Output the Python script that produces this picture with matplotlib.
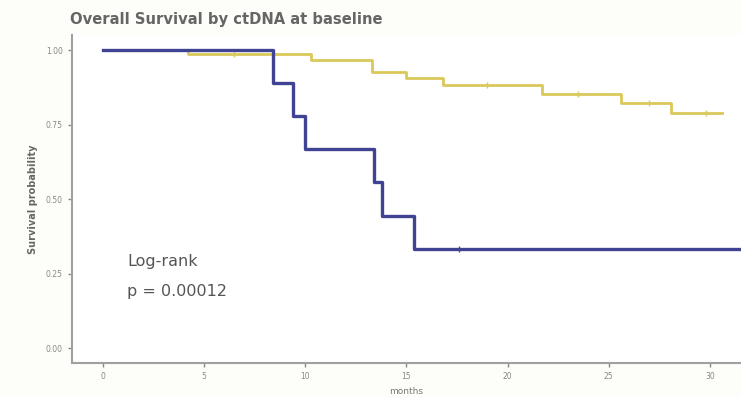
import matplotlib.pyplot as plt
import numpy as np

# Kaplan-Meier steps (months, survival)
pos_times = [0, 8.4, 9.4, 10.0, 13.4, 13.8, 15.4, 31.6]
pos_surv = [1.0, 0.889, 0.778, 0.667, 0.556, 0.444, 0.333, 0.333]
pos_censor = [17.6]

neg_times = [0, 4.2, 10.3, 13.3, 15.0, 16.8, 21.7, 25.6, 28.1, 30.6]
neg_surv = [1.0, 0.985, 0.966, 0.926, 0.906, 0.883, 0.852, 0.822, 0.789, 0.789]
neg_censor = [6.5, 19.0, 23.5, 27.0, 29.8]

x_ticks = [0, 5, 10, 15, 20, 25, 30]
y_ticks = [0.00, 0.25, 0.50, 0.75, 1.00]

blue = '#3f4391'
yellow = '#d9c85a'


def surv_at(times, surv, t_list):
    # survival value of the step curve at each censoring time
    idx = np.searchsorted(times, t_list, side='right') - 1
    return np.array(surv)[idx]


fig = plt.figure(figsize=(7.41, 3.97), dpi=100)
fig.patch.set_facecolor('#fdfdf9')
ax = fig.add_axes([0.097, 0.0856, 0.903, 0.826])
ax.set_facecolor('white')

# ctDNA negative (yellow) drawn first, positive (blue) on top
ax.step(neg_times, neg_surv, where='post', color=yellow, lw=2.0)
ax.plot(neg_censor, surv_at(neg_times, neg_surv, neg_censor),
        '|', color=yellow, ms=4, mew=1)
ax.step(pos_times, pos_surv, where='post', color=blue, lw=2.4)
ax.plot(pos_censor, surv_at(pos_times, pos_surv, pos_censor),
        '|', color=blue, ms=4, mew=1)

ax.set_xlim(-1.53, 31.54)
ax.set_ylim(-0.05, 1.05)
ax.set_xticks(x_ticks)
ax.set_yticks(y_ticks)
ax.set_yticklabels([f"{v:.2f}" for v in y_ticks])
ax.tick_params(colors='#888888', labelsize=5.5, length=3, width=1)

for s in ['top', 'right']:
    ax.spines[s].set_visible(False)
for s in ['left', 'bottom']:
    ax.spines[s].set_color('#a0a0a0')
    ax.spines[s].set_linewidth(1.5)

ax.set_xlabel("months", fontsize=6.5, color='#777777', labelpad=4)
ax.set_ylabel("Survival probability", fontsize=7, fontweight='bold',
              color='#666666', labelpad=6)

fig.text(0.094, 0.95, "Overall Survival by ctDNA at baseline", fontsize=10.6,
         fontweight='bold', color='#666666', va='center')

ax.text(1.2, 0.29, "Log-rank", fontsize=11.5, color='#555555', va='center')
ax.text(1.2, 0.19, "p = 0.00012", fontsize=11.5, color='#555555', va='center')

fig.savefig("out.png", dpi=100, facecolor=fig.get_facecolor())
